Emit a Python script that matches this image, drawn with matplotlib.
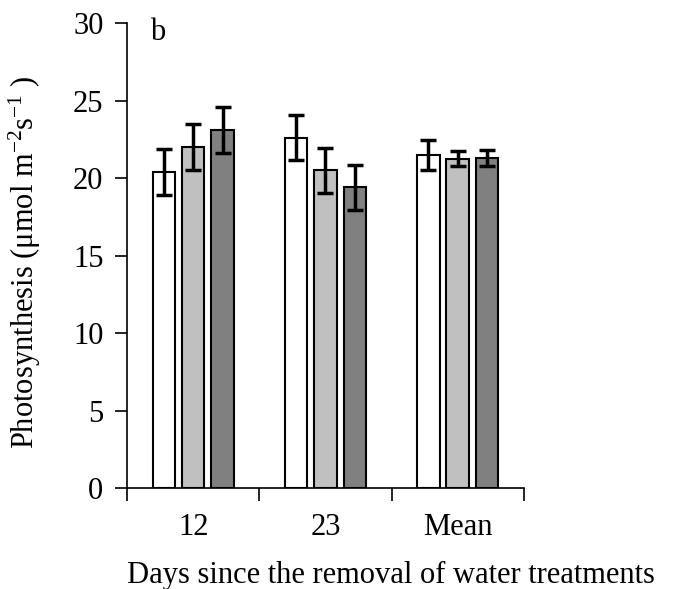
import matplotlib.pyplot as plt
import numpy as np

plt.rcParams["font.family"] = ["Liberation Serif", "DejaVu Serif"]
plt.rcParams["mathtext.fontset"] = "custom"
plt.rcParams["mathtext.rm"] = "Liberation Serif"
plt.rcParams["mathtext.it"] = "Liberation Serif:italic"

categories = ["12", "23", "Mean"]
treatments = ["T1", "T2", "T3"]
# photosynthesis means and standard errors, one list per treatment
photo = {
    "T1": [20.4, 22.6, 21.5],
    "T2": [22.0, 20.5, 21.25],
    "T3": [23.1, 19.4, 21.3],
}
photo_err = {
    "T1": [1.5, 1.45, 0.95],
    "T2": [1.5, 1.45, 0.5],
    "T3": [1.5, 1.45, 0.5],
}
colors = {"T1": "white", "T2": "#c0c0c0", "T3": "#808080"}

fs = 22
fig = plt.figure(figsize=(6.83, 5.89), dpi=100)
ax = fig.add_axes([0.186, 0.171, 0.581, 0.790])

x = np.arange(len(categories))
width = 0.17
step = 0.222
for i, t in enumerate(treatments):
    ax.bar(x + (i - 1) * step, photo[t], width, color=colors[t],
           edgecolor="black", linewidth=1.5,
           yerr=photo_err[t], capsize=6,
           error_kw=dict(elinewidth=2.5, capthick=2.5, ecolor="black"))

ax.set_xlim(-0.5, 2.5)
ax.set_ylim(0, 30)
ax.set_yticks(range(0, 31, 5))
ax.set_xticks(np.arange(-0.5, 3.0, 1.0))
ax.set_xticklabels([])
ax.set_xticks(x, minor=True)
ax.set_xticklabels(categories, minor=True)
ax.tick_params(axis="x", which="major", direction="out", length=9, width=1.2)
ax.tick_params(axis="x", which="minor", length=0, pad=18, labelsize=fs)
ax.tick_params(axis="y", direction="out", length=9, width=1.2, labelsize=fs, pad=8)

for side in ["top", "right"]:
    ax.spines[side].set_visible(False)
for side in ["left", "bottom"]:
    ax.spines[side].set_linewidth(1.2)

# axis titles placed in figure coordinates (x title sits right of the axes centre)
fig.text(391 / 683, 1 - 583 / 589, "Days since the removal of water treatments",
         fontsize=fs, ha="center", va="baseline")
fig.text(25 / 683, 1 - 262 / 589, r"Photosynthesis (μmol m$^{-2}$s$^{-1}$ )",
         fontsize=fs, rotation=90, ha="center", va="center")
ax.text(0.058, 1.01, "b", transform=ax.transAxes, fontsize=fs, va="top")

fig.savefig("out.png", dpi=100)
